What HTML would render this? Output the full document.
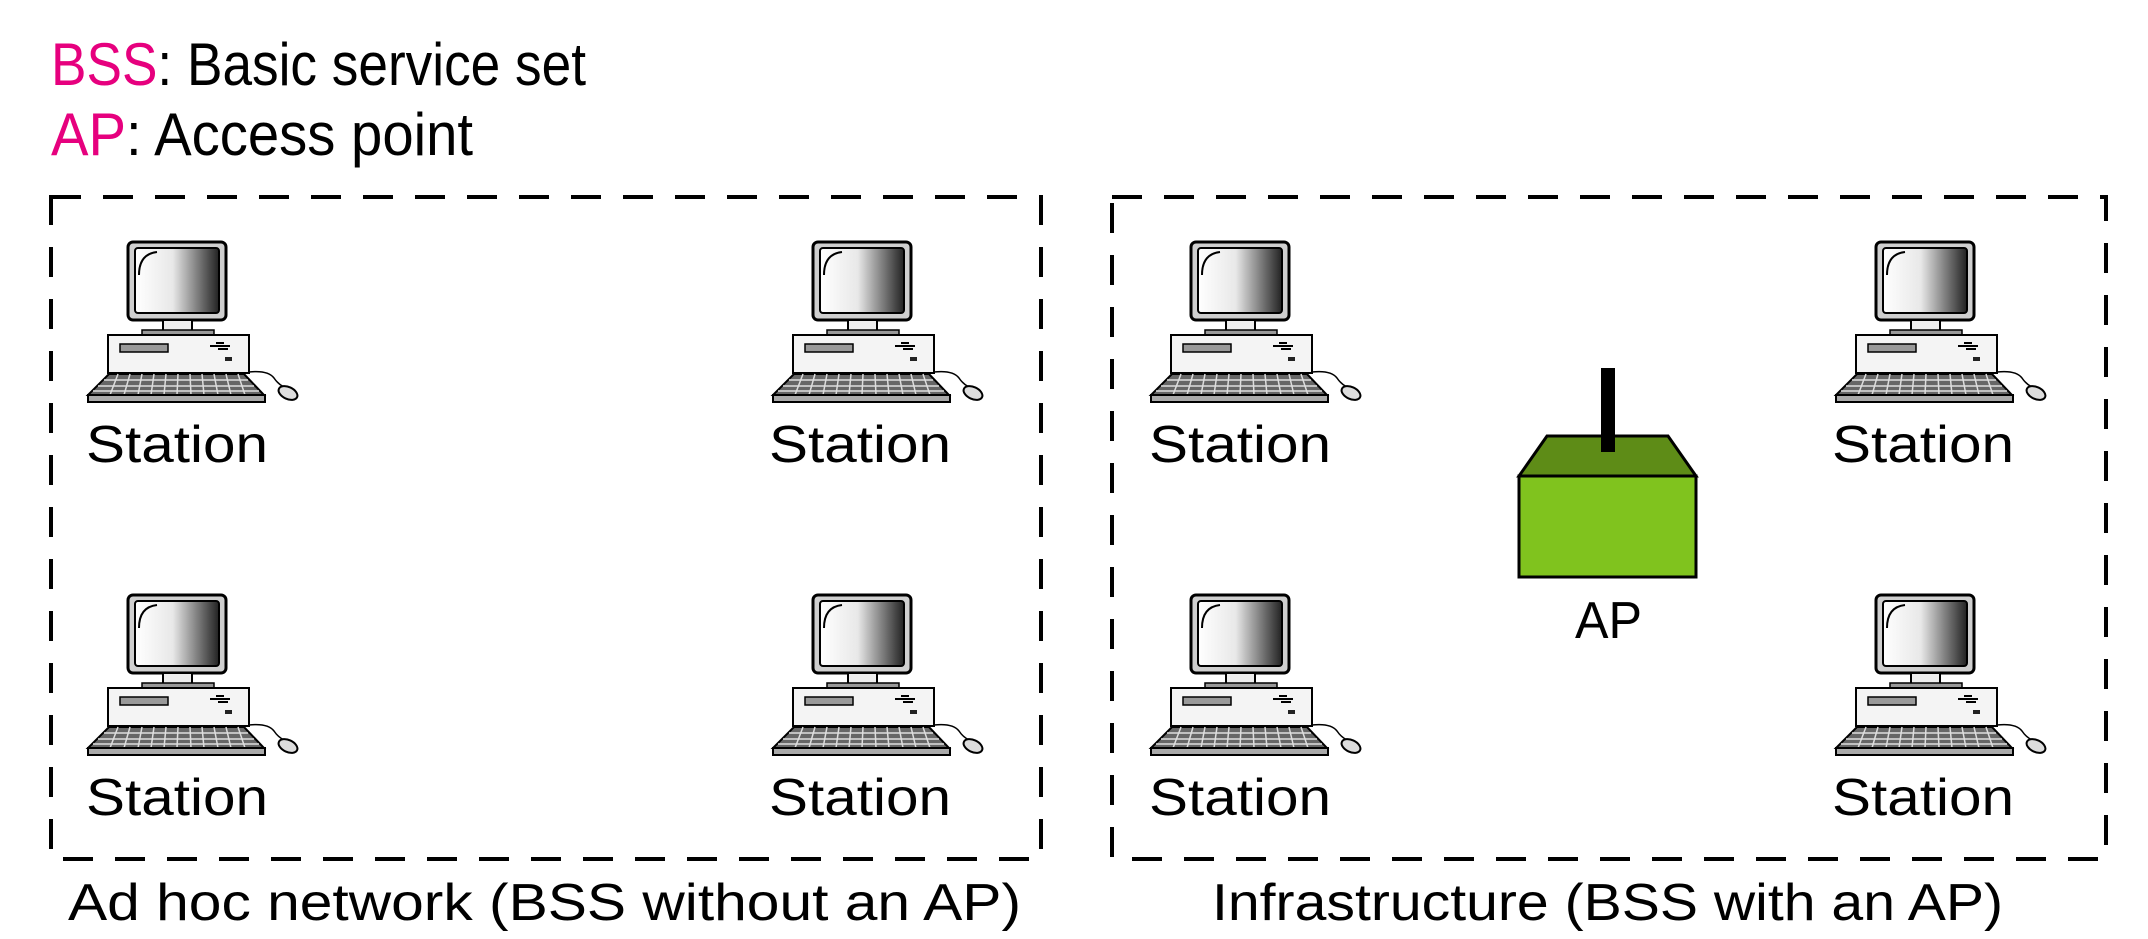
<!DOCTYPE html>
<html><head><meta charset="utf-8"><style>
html,body{margin:0;padding:0;background:#fff;}
svg{display:block;}
text{font-family:"Liberation Sans",sans-serif;}
</style></head><body>
<svg width="2148" height="939" viewBox="0 0 2148 939" xmlns="http://www.w3.org/2000/svg">
<defs>
<linearGradient id="scr" x1="0" x2="1" y1="0" y2="0">
<stop offset="0" stop-color="#fff"/><stop offset="0.45" stop-color="#e8e8e8"/><stop offset="1" stop-color="#222"/>
</linearGradient>
<g id="pc">
<rect x="40" y="0" width="98" height="78" rx="5" fill="#cfcfcf" stroke="#000" stroke-width="3"/>
<rect x="47" y="6" width="84" height="65" rx="3" fill="url(#scr)" stroke="#000" stroke-width="2"/>
<path d="M51 33 Q51 12 69 10" fill="none" stroke="#000" stroke-width="2"/>
<rect x="75" y="78" width="29" height="12" fill="#eee" stroke="#000" stroke-width="2"/>
<rect x="54" y="88" width="72" height="6" fill="#999" stroke="#000" stroke-width="1.5"/>
<rect x="20" y="93" width="141" height="38" fill="#f4f4f4" stroke="#000" stroke-width="2"/>
<rect x="32" y="102" width="48" height="8" fill="#999" stroke="#000" stroke-width="1.5"/>
<path d="M122 104 H142 M128 101 H136 M130 107 H140" stroke="#000" stroke-width="2"/>
<rect x="137" y="115" width="7" height="4" fill="#222"/>
<polygon points="21,132 156,132 176,153 0,153" fill="#666" stroke="#000" stroke-width="2"/>
<path d="M16 138 H160 M10 144 H166 M5 149 H171" stroke="#ddd" stroke-width="1.5"/>
<path d="M30 132 L22 153 M42 132 L36 153 M54 132 L50 153 M66 132 L63 153 M78 132 L76 153 M90 132 L89 153 M102 132 L103 153 M114 132 L116 153 M126 132 L130 153 M138 132 L143 153 M150 132 L157 153" stroke="#ddd" stroke-width="1.5"/>
<rect x="0" y="153" width="177" height="7" fill="#aaa" stroke="#000" stroke-width="2"/>
<path d="M161 130 Q180 128 186 136 Q190 142 196 145" fill="none" stroke="#000" stroke-width="1.5"/>
<ellipse cx="200" cy="151" rx="10" ry="6" transform="rotate(25 200 151)" fill="#ddd" stroke="#000" stroke-width="2"/>
</g>
</defs>

<text x="51" y="85" font-size="60" textLength="535" lengthAdjust="spacingAndGlyphs"><tspan fill="#e6007e">BSS</tspan>: Basic service set</text>
<text x="51" y="155" font-size="60" textLength="422" lengthAdjust="spacingAndGlyphs"><tspan fill="#e6007e">AP</tspan>: Access point</text>

<rect x="51" y="197" width="990" height="662" fill="none" stroke="#000" stroke-width="4" stroke-dasharray="30 22"/>
<rect x="1112" y="197" width="994" height="662" fill="none" stroke="#000" stroke-width="4" stroke-dasharray="30 22"/>

<use href="#pc" x="88" y="242"/>
<use href="#pc" x="773" y="242"/>
<use href="#pc" x="1151" y="242"/>
<use href="#pc" x="1836" y="242"/>
<use href="#pc" x="88" y="595"/>
<use href="#pc" x="773" y="595"/>
<use href="#pc" x="1151" y="595"/>
<use href="#pc" x="1836" y="595"/>

<g font-size="52">
<text x="86" y="462" textLength="182" lengthAdjust="spacingAndGlyphs">Station</text>
<text x="769" y="462" textLength="182" lengthAdjust="spacingAndGlyphs">Station</text>
<text x="1149" y="462" textLength="182" lengthAdjust="spacingAndGlyphs">Station</text>
<text x="1832" y="462" textLength="182" lengthAdjust="spacingAndGlyphs">Station</text>
<text x="86" y="815" textLength="182" lengthAdjust="spacingAndGlyphs">Station</text>
<text x="769" y="815" textLength="182" lengthAdjust="spacingAndGlyphs">Station</text>
<text x="1149" y="815" textLength="182" lengthAdjust="spacingAndGlyphs">Station</text>
<text x="1832" y="815" textLength="182" lengthAdjust="spacingAndGlyphs">Station</text>
</g>

<polygon points="1547,436 1668,436 1696,476 1519,476" fill="#5e8c17" stroke="#000" stroke-width="3"/>
<rect x="1519" y="476" width="177" height="101" fill="#80c31e" stroke="#000" stroke-width="3"/>
<rect x="1601" y="368" width="14" height="84" fill="#000"/>
<text x="1575" y="638" font-size="52" textLength="67" lengthAdjust="spacingAndGlyphs">AP</text>

<text x="68" y="920" font-size="52" textLength="953" lengthAdjust="spacingAndGlyphs">Ad hoc network  (BSS without an AP)</text>
<text x="1212" y="920" font-size="52" textLength="791" lengthAdjust="spacingAndGlyphs">Infrastructure (BSS with an AP)</text>
</svg>
</body></html>
